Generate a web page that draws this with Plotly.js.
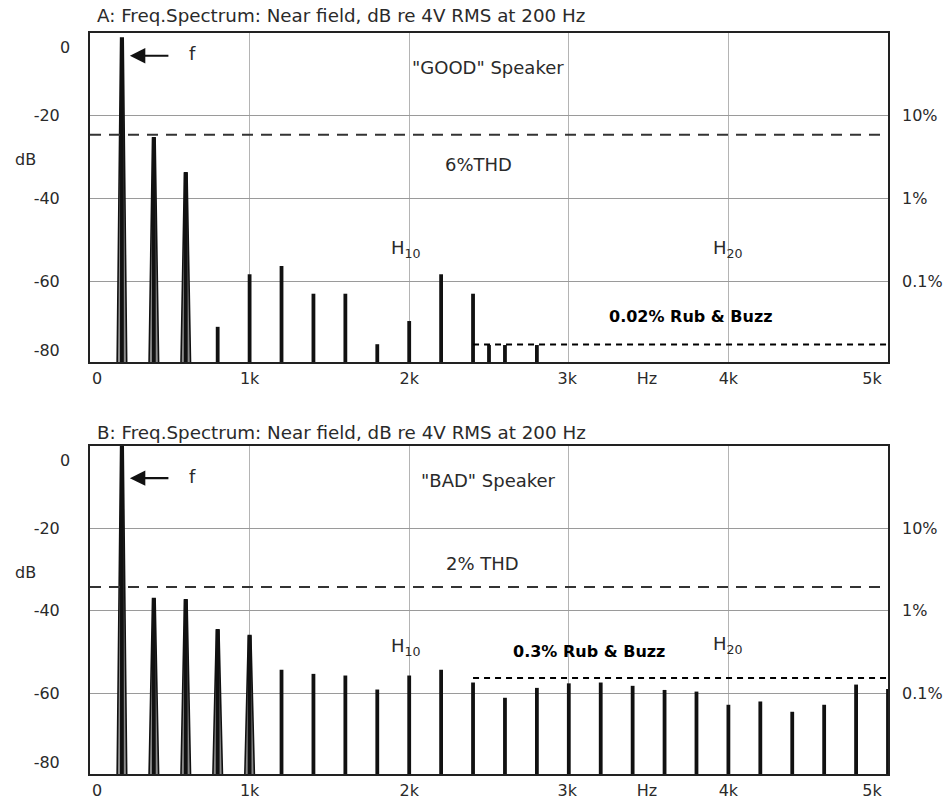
<!DOCTYPE html>
<html>
<head>
<meta charset="utf-8">
<script src="https://cdn.plot.ly/plotly-3.0.1.min.js"></script>
<style>html,body{margin:0;padding:0;background:#fff;}#chart{width:951px;height:799px;}</style>
</head>
<body>
<div id="chart"></div>
<script>
// ---------- data ----------
// Panel A: "GOOD" speaker harmonic spectrum (Hz, dB re 4V RMS)
const freqA = [200, 400, 600, 800, 1000, 1200, 1400, 1600, 1800, 2000, 2200, 2400, 2500, 2600, 2800];
const peakA = [-1.2, -25.3, -33.8, -71.0, -58.3, -56.3, -63.0, -63.0, -75.2, -69.6, -58.3, -63.0, -75.4, -75.4, -75.4];
// Panel B: "BAD" speaker harmonic spectrum
const freqB = [200, 400, 600, 800, 1000, 1200, 1400, 1600, 1800, 2000, 2200, 2400, 2600, 2800, 3000, 3200, 3400, 3600, 3800, 4000, 4200, 4400, 4600, 4800, 5000];
const peakB = [0, -37.0, -37.3, -44.6, -46.0, -54.3, -55.3, -55.7, -59.1, -55.7, -54.3, -57.4, -61.1, -58.7, -57.6, -57.4, -58.2, -59.2, -59.6, -62.8, -62.0, -64.5, -62.8, -57.9, -59.0];
// reference levels (dB)
const thdLevelA = -24.6;     // 6% THD
const thdLevelB = -34.2;     // 2% THD
const rubLevelA = -75.3;     // 0.02% Rub & Buzz
const rubLevelB = -56.3;     // 0.3% Rub & Buzz
const rubStartHz = 2400;
const spanHz = [0, 5000];
const floorDb = -80;
// tick labels
const xTickPos = [44, 1000, 2000, 2990, 3490, 4000, 4900];
const xTickText = ['0', '1k', '2k', '3k', 'Hz', '4k', '5k'];
const yTickPos = [-20, -40, -60, -76.7];
const yTickText = ['-20', '-40', '-60', '-80'];
const pctTickPos = [-20, -40, -60];
const pctTickText = ['10%', '1%', '0.1%'];
const gridHz = [1000, 2000, 3000, 4000];
const gridDb = [-20, -40, -60];

// ---------- helpers ----------
const FONT = 'DejaVu Sans, Liberation Sans, Arial, sans-serif';
const TXT = '#2a2a2a';

function spikeTrace(freq, peak, xa, ya) {
  const x = [], y = [];
  freq.forEach((f, i) => { x.push(f, f, null); y.push(floorDb, peak[i], null); });
  return {type: 'scatter', mode: 'lines', x, y, xaxis: xa, yaxis: ya,
          line: {color: '#111', width: 3.8}, hoverinfo: 'skip'};
}
function bigSpikeTraces(freq, peak, xa, ya) {
  const out = [];
  freq.forEach((f, i) => {
    if (peak[i] > -50) {
      out.push({type: 'scatter', mode: 'lines', xaxis: xa, yaxis: ya,
        x: [f - 30, f - 8, f + 8, f + 30, f - 30],
        y: [floorDb, peak[i], peak[i], floorDb, floorDb],
        fill: 'toself', fillcolor: '#8a8a8a',
        line: {color: '#111', width: 1.6}, hoverinfo: 'skip'});
    }
  });
  return out;
}
function hline(level, x0, xa, ya, color, width, dash) {
  return {type: 'scatter', mode: 'lines', x: [x0, spanHz[1]], y: [level, level],
          xaxis: xa, yaxis: ya, line: {color, width, dash}, hoverinfo: 'skip'};
}

const traces = [
  ...bigSpikeTraces(freqA, peakA, 'x', 'y'),
  spikeTrace(freqA, peakA, 'x', 'y'),
  hline(thdLevelA, spanHz[0], 'x', 'y', '#333', 2, '11px,8px'),
  hline(rubLevelA, rubStartHz, 'x', 'y3', '#000', 2, '6px,5px'),
  ...bigSpikeTraces(freqB, peakB, 'x2', 'y2'),
  spikeTrace(freqB, peakB, 'x2', 'y2'),
  hline(thdLevelB, spanHz[0], 'x2', 'y2', '#333', 2, '11px,8px'),
  hline(rubLevelB, rubStartHz, 'x2', 'y4', '#000', 2, '6px,5px'),
];

const H = 799, W = 951;
const xDom = [90 / W, 888 / W];
const domA = [1 - 362 / H, 1 - 33 / H];
const domB = [1 - 774 / H, 1 - 446 / H];

function xAxis(anchor) {
  return {domain: xDom, anchor, range: spanHz, tickmode: 'array', tickvals: xTickPos, ticktext: xTickText,
    showgrid: false, zeroline: false, ticks: '', showline: true, mirror: true, linecolor: '#222', linewidth: 2,
    tickfont: {family: FONT, size: 16, color: TXT}, ticklabelstandoff: 1,
    minor: {tickmode: 'array', tickvals: gridHz, showgrid: true, gridcolor: '#b4b4b4', gridwidth: 1, ticks: ''}};
}
function yAxis(anchor, dom, range) {
  return {domain: dom, anchor, range, tickmode: 'array', tickvals: yTickPos, ticktext: yTickText,
    showgrid: false, zeroline: false, ticks: '', showline: true, mirror: true, linecolor: '#222', linewidth: 2,
    tickfont: {family: FONT, size: 16, color: TXT}, ticklabelstandoff: 25,
    minor: {tickmode: 'array', tickvals: gridDb, showgrid: true, gridcolor: '#9a9a9a', gridwidth: 1, ticks: ''}};
}
function pctAxis(over, anchor, range) {
  return {overlaying: over, anchor, side: 'right', range, tickmode: 'array', tickvals: pctTickPos, ticktext: pctTickText,
    showgrid: false, zeroline: false, ticks: '', showline: false,
    tickfont: {family: FONT, size: 16, color: TXT}, ticklabelstandoff: 13};
}

const rangeA = [-79.5, 0];
const rangeB = [-79.6, 0];

function txt(text, x, y, xref, yref, opts) {
  return Object.assign({text, x, y, xref, yref, showarrow: false, xanchor: 'center', yanchor: 'middle',
    font: {family: FONT, size: 18, color: TXT}}, opts || {});
}
const TITLE_FONT = {family: FONT, size: 18.3, color: TXT};
const TICK_FONT = {family: FONT, size: 16, color: TXT};
const BOLD_FONT = {family: FONT, size: 16, color: '#000'};

const annotations = [
  // panel A
  txt('A: Freq.Spectrum: Near field, dB re 4V RMS at 200 Hz', 95 / W, 1 - 16 / H, 'paper', 'paper', {xanchor: 'left', font: TITLE_FONT}),
  txt('dB', 25 / W, -30.6, 'paper', 'y', {font: TICK_FONT}),
  txt('0', 65 / W, -3.6, 'paper', 'y', {font: TICK_FONT}),
  {x: 250, y: -5.5, xref: 'x', yref: 'y', ax: 40, ay: 0, text: '', showarrow: true, arrowhead: 2, arrowsize: 1.4, arrowwidth: 2.2, arrowcolor: '#111'},
  txt('f', 640, -5.0, 'x', 'y'),
  txt('"GOOD" Speaker', 2494, -8.4, 'x', 'y'),
  txt('6%THD', 2437, -31.8, 'x', 'y'),
  txt('H<sub>10</sub>', 1980, -52.3, 'x', 'y'),
  txt('H<sub>20</sub>', 3997, -52.3, 'x', 'y'),
  txt('<b>0.02% Rub &amp; Buzz</b>', 3766, -68.4, 'x', 'y', {font: BOLD_FONT}),
  // panel B
  txt('B: Freq.Spectrum: Near field, dB re 4V RMS at 200 Hz', 95 / W, 1 - 432 / H, 'paper', 'paper', {xanchor: 'left', font: TITLE_FONT}),
  txt('dB', 25 / W, -30.6, 'paper', 'y2', {font: TICK_FONT}),
  txt('0', 65 / W, -3.4, 'paper', 'y2', {font: TICK_FONT}),
  {x: 250, y: -7.8, xref: 'x2', yref: 'y2', ax: 40, ay: 0, text: '', showarrow: true, arrowhead: 2, arrowsize: 1.4, arrowwidth: 2.2, arrowcolor: '#111'},
  txt('f', 640, -7.3, 'x2', 'y2'),
  txt('"BAD" Speaker', 2494, -8.3, 'x2', 'y2'),
  txt('2% THD', 2462, -28.4, 'x2', 'y2'),
  txt('H<sub>10</sub>', 1980, -48.8, 'x2', 'y2'),
  txt('H<sub>20</sub>', 4000, -48.3, 'x2', 'y2'),
  txt('<b>0.3% Rub &amp; Buzz</b>', 3127, -49.8, 'x2', 'y2', {font: BOLD_FONT}),
];

const layout = {
  width: W, height: H, margin: {l: 0, r: 0, t: 0, b: 0},
  paper_bgcolor: '#fff', plot_bgcolor: '#fff', showlegend: false,
  xaxis: xAxis('y'), yaxis: yAxis('x', domA, rangeA),
  xaxis2: xAxis('y2'), yaxis2: yAxis('x2', domB, rangeB),
  yaxis3: pctAxis('y', 'x', rangeA),
  yaxis4: pctAxis('y2', 'x2', rangeB),
  annotations,
};

Plotly.newPlot('chart', traces, layout, {displayModeBar: false, staticPlot: true});
</script>
</body>
</html>
